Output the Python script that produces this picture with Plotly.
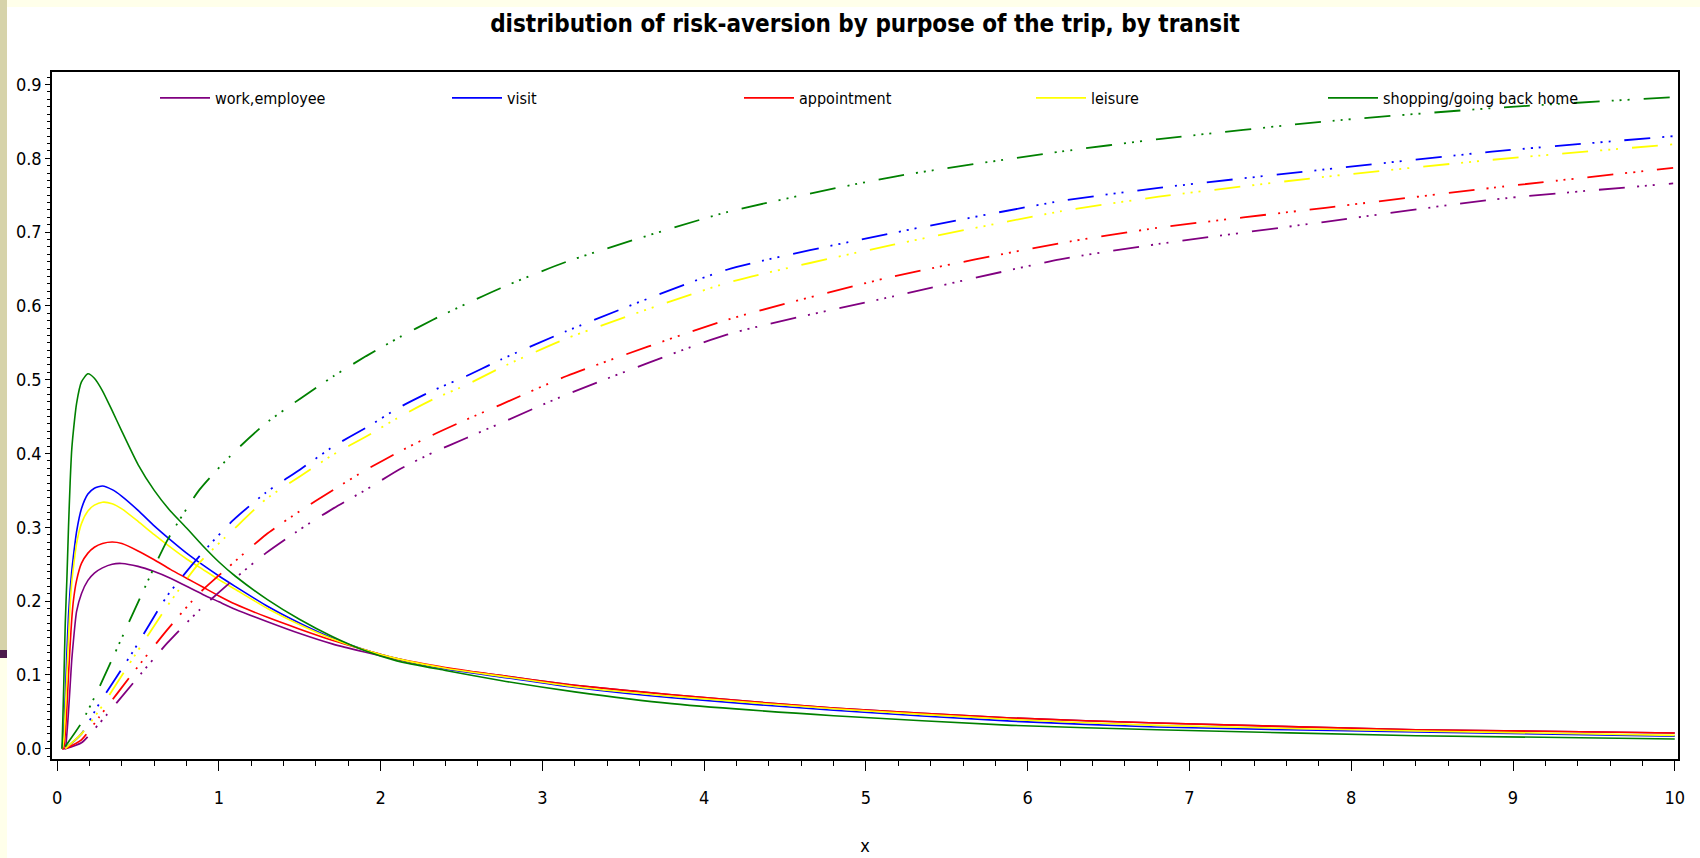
import plotly.graph_objects as go

# ---------------- data ----------------
categories = ["work,employee", "visit", "appointment", "leisure", "shopping/going back home"]
colors = ["#800080", "#0000FF", "#FF0000", "#FFFF00", "#008000"]

# density curves (solid lines)
dens_x = [0.03, 0.04, 0.05, 0.06, 0.07, 0.08, 0.09, 0.10, 0.12, 0.15, 0.19, 0.23, 0.28, 0.34,
          0.40, 0.50, 0.60, 0.70, 0.80, 0.90, 1.00, 1.10, 1.30, 1.50, 1.70, 1.90, 2.10, 2.40,
          2.75, 3.20, 3.80, 4.80, 5.90, 6.80, 8.40, 10.00]
dens_work = [0.0, 0.0, 0.0, 0.02, 0.05, 0.085, 0.12, 0.145, 0.186, 0.210, 0.228, 0.238, 0.245, 0.250,
             0.251, 0.247, 0.240, 0.231, 0.220, 0.209, 0.199, 0.189, 0.172, 0.156, 0.142, 0.131, 0.121, 0.109,
             0.099, 0.086, 0.073, 0.055, 0.0416, 0.0348, 0.0257, 0.0213]
dens_visit = [0.0, 0.02, 0.07, 0.13, 0.18, 0.215, 0.24, 0.26, 0.294, 0.325, 0.345, 0.353, 0.356, 0.351,
              0.342, 0.323, 0.302, 0.283, 0.265, 0.249, 0.234, 0.220, 0.193, 0.170, 0.150, 0.134, 0.122, 0.108,
              0.097, 0.083, 0.069, 0.052, 0.0373, 0.0294, 0.0226, 0.017]
dens_appt = [0.0, 0.0, 0.02, 0.055, 0.10, 0.14, 0.175, 0.20, 0.228, 0.251, 0.265, 0.273, 0.278, 0.280,
             0.278, 0.268, 0.256, 0.243, 0.231, 0.219, 0.207, 0.196, 0.178, 0.162, 0.147, 0.134, 0.122, 0.110,
             0.099, 0.086, 0.073, 0.055, 0.0416, 0.0348, 0.0257, 0.0213]
dens_leisure = [0.0, 0.01, 0.05, 0.10, 0.15, 0.195, 0.225, 0.245, 0.278, 0.305, 0.322, 0.330, 0.334, 0.332,
                0.325, 0.308, 0.290, 0.273, 0.257, 0.243, 0.229, 0.216, 0.190, 0.168, 0.149, 0.134, 0.122, 0.109,
                0.098, 0.084, 0.071, 0.054, 0.0395, 0.0315, 0.024, 0.018]
dens_shop = [0.0, 0.08, 0.17, 0.23, 0.30, 0.36, 0.405, 0.43, 0.468, 0.497, 0.508, 0.502, 0.485, 0.458,
             0.430, 0.385, 0.350, 0.322, 0.299, 0.275, 0.253, 0.234, 0.202, 0.175, 0.152, 0.133, 0.119, 0.106,
             0.092, 0.077, 0.061, 0.0447, 0.0316, 0.0257, 0.0176, 0.0131]

# cumulative curves (dash-dot lines)
cdf_x = [0.05, 0.15, 0.26, 0.47, 0.68, 0.88, 1.09, 1.29, 1.50, 1.71, 1.91, 2.12, 2.32, 2.53, 2.74,
         3.15, 4.14, 5.17, 6.20, 6.81, 7.84, 8.87, 9.99]
cdf_work = [0.0, 0.008, 0.034, 0.089, 0.143, 0.188, 0.229, 0.265, 0.297, 0.326, 0.351, 0.379, 0.401, 0.421, 0.441,
            0.480, 0.561, 0.613, 0.663, 0.684, 0.714, 0.744, 0.766]
cdf_visit = [0.0, 0.02, 0.061, 0.132, 0.207, 0.261, 0.310, 0.347, 0.378, 0.410, 0.435, 0.463, 0.485, 0.505, 0.527,
             0.566, 0.649, 0.699, 0.742, 0.760, 0.785, 0.809, 0.830]
cdf_appt = [0.0, 0.012, 0.043, 0.103, 0.161, 0.211, 0.252, 0.290, 0.322, 0.351, 0.378, 0.403, 0.425, 0.446, 0.466,
            0.505, 0.581, 0.640, 0.685, 0.706, 0.733, 0.760, 0.787]
cdf_leisure = [0.0, 0.02, 0.052, 0.123, 0.193, 0.252, 0.297, 0.338, 0.369, 0.399, 0.423, 0.450, 0.473, 0.493, 0.516,
               0.556, 0.631, 0.683, 0.728, 0.748, 0.775, 0.798, 0.819]
cdf_shop = [0.003, 0.035, 0.083, 0.184, 0.282, 0.351, 0.401, 0.441, 0.474, 0.505, 0.532, 0.558, 0.581, 0.603, 0.624,
            0.660, 0.727, 0.775, 0.809, 0.826, 0.850, 0.868, 0.883]

x_ticks = [0, 1, 2, 3, 4, 5, 6, 7, 8, 9, 10]
y_ticks = [0.0, 0.1, 0.2, 0.3, 0.4, 0.5, 0.6, 0.7, 0.8, 0.9]

dens_series = [dens_work, dens_visit, dens_appt, dens_leisure, dens_shop]
cdf_series = [cdf_work, cdf_visit, cdf_appt, cdf_leisure, cdf_shop]

# ---------------- figure ----------------
FONT = "Liberation Sans Narrow, Arial Narrow, DejaVu Sans Condensed, sans-serif"
W, H = 1700, 858
ML, MR, MT, MB = 52, 22, 72, 99
PW, PH = W - ML - MR, H - MT - MB

def px_x(px):
    return (px - ML) / PW

def px_y(py):
    return (H - MB - py) / PH

fig = go.Figure()
for name, col, ys in zip(categories, colors, dens_series):
    fig.add_trace(go.Scatter(x=dens_x, y=ys, mode="lines", name=name,
                             line=dict(color=col, width=1.6, shape="spline", smoothing=0.6)))
for name, col, ys in zip(categories, colors, cdf_series):
    fig.add_trace(go.Scatter(x=cdf_x, y=ys, mode="lines", name=name + " (cdf)", showlegend=False,
                             line=dict(color=col, width=1.8, shape="spline", smoothing=0.6,
                                       dash="26px,12px,2px,6px,2px,6px,2px,14px")))

shapes = [
    dict(type="rect", xref="paper", yref="paper", x0=px_x(7), x1=px_x(W), y0=px_y(7), y1=px_y(0),
         fillcolor="#FFFFEA", line=dict(width=0), layer="below"),
    dict(type="rect", xref="paper", yref="paper", x0=px_x(0), x1=px_x(7), y0=px_y(650), y1=px_y(0),
         fillcolor="#D6D3AA", line=dict(width=0), layer="below"),
    dict(type="rect", xref="paper", yref="paper", x0=px_x(0), x1=px_x(7), y0=px_y(658), y1=px_y(650),
         fillcolor="#4B1A4B", line=dict(width=0), layer="below"),
    dict(type="rect", xref="paper", yref="paper", x0=px_x(0), x1=px_x(7), y0=px_y(H), y1=px_y(658),
         fillcolor="#FFFFEA", line=dict(width=0), layer="below"),
]

fig.update_layout(
    width=W, height=H,
    margin=dict(l=ML, r=MR, t=MT, b=MB, autoexpand=False),
    paper_bgcolor="white", plot_bgcolor="white",
    font=dict(family=FONT, color="black", size=17),
    title=dict(text="<b>distribution of risk-aversion by purpose of the trip, by transit</b>",
               x=0.5, xref="paper", xanchor="center", y=1 - 24 / H, yref="container", yanchor="middle",
               font=dict(family=FONT, size=24, color="black")),
    showlegend=True,
    legend=dict(orientation="h", x=px_x(155), y=px_y(98), xanchor="left", yanchor="middle",
                itemwidth=50, entrywidth=227, entrywidthmode="pixels", bgcolor="rgba(0,0,0,0)",
                font=dict(family=FONT, size=16, color="black"), traceorder="normal"),
    shapes=shapes,
    xaxis=dict(range=[-0.032, 10.02], tickvals=x_ticks, ticktext=[str(v) for v in x_ticks],
               automargin=False,
               showgrid=False, zeroline=False, showline=True, linecolor="black", linewidth=1.5,
               mirror=True, ticks="outside", ticklen=10, tickwidth=1, tickcolor="black",
               ticklabelstandoff=12,
               minor=dict(dtick=0.2, ticks="outside", ticklen=5, tickcolor="black", showgrid=False),
               tickfont=dict(family=FONT, size=18),
               title=dict(text="x", font=dict(family=FONT, size=18), standoff=32)),
    yaxis=dict(range=[-0.014, 0.917], tickvals=y_ticks, ticktext=["%.1f" % v for v in y_ticks],
               automargin=False,
               showgrid=False, zeroline=False, showline=True, linecolor="black", linewidth=1.5,
               mirror=True, ticks="outside", ticklen=5, tickwidth=1, tickcolor="black",
               minor=dict(dtick=0.01, ticks="outside", ticklen=3, tickcolor="black", showgrid=False),
               tickfont=dict(family=FONT, size=18)),
)

fig.write_html("out.html", config={"displayModeBar": False},
               post_script="document.body.style.margin='0';")
